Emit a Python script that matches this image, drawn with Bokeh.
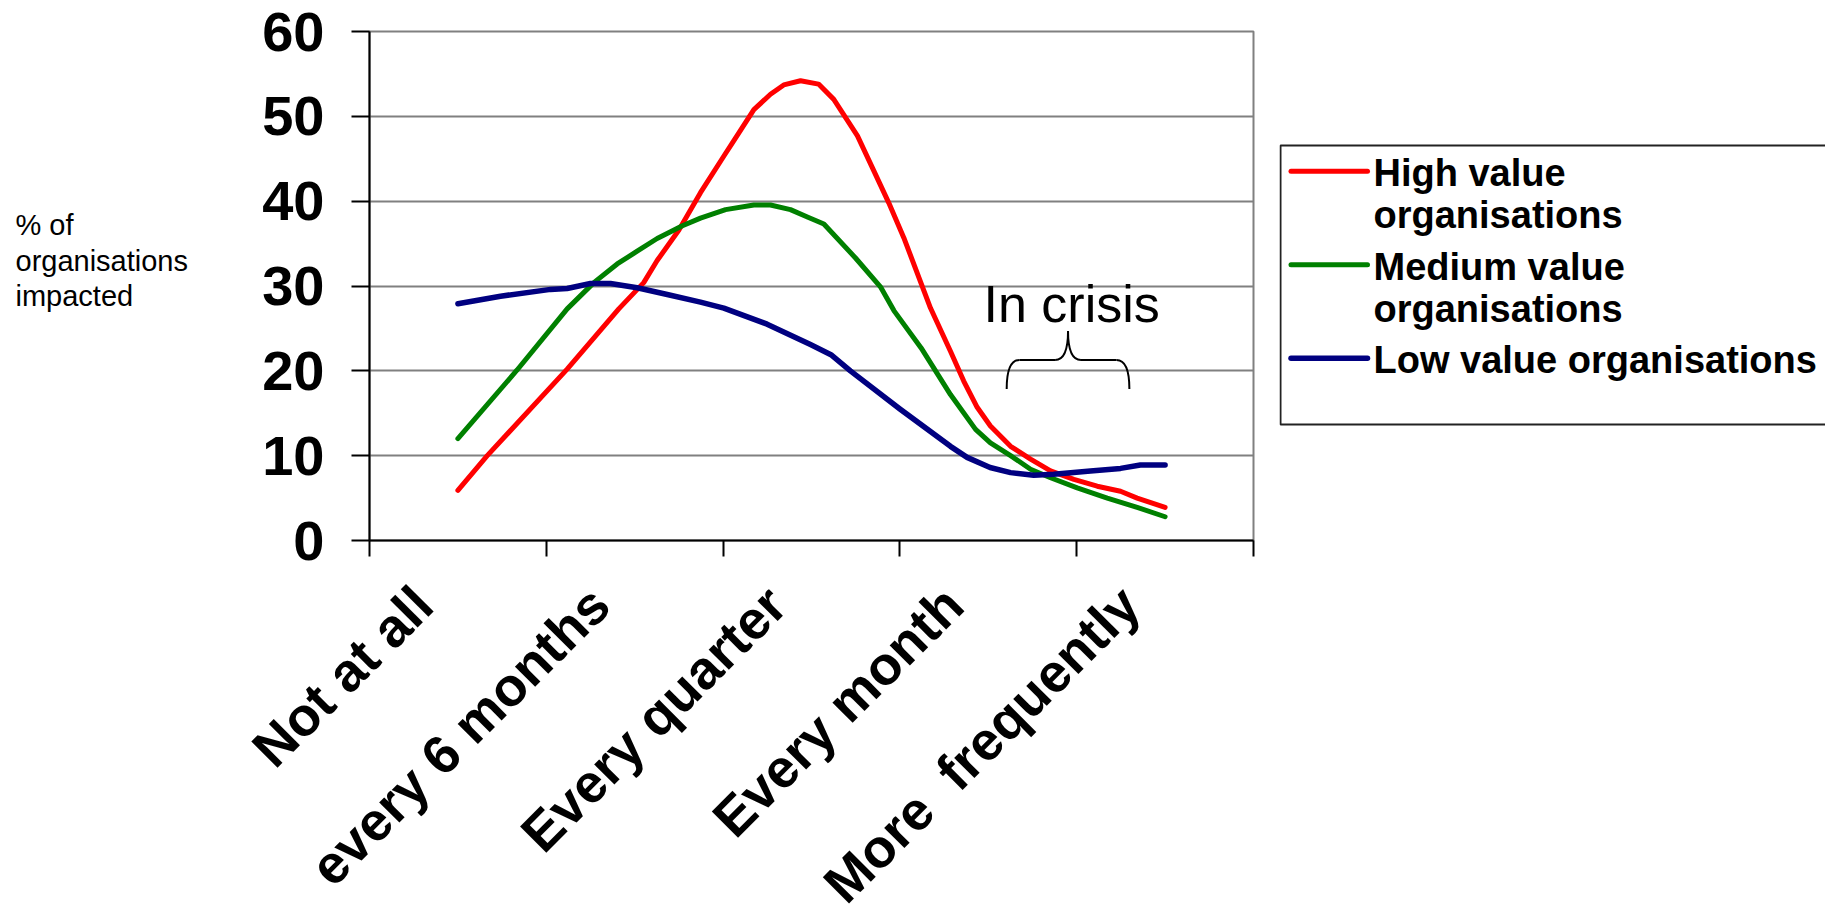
from bokeh.plotting import figure
from bokeh.layouts import row, column
from bokeh.models import FixedTicker, Range1d, Label
from bokeh.embed import file_html
from bokeh.resources import INLINE

# ---------------- data ----------------
categories = ["Not at all", "every 6 months", "Every quarter", "Every month",
              "More\u00a0\u00a0frequently"]
category_pos = [1, 2, 3, 4, 5]
y_ticks = [0, 10, 20, 30, 40, 50, 60]

high_x = [1.0, 1.166, 1.618, 1.91, 2.051, 2.127, 2.25, 2.372, 2.51, 2.56,
          2.674, 2.768, 2.843, 2.938, 3.04, 3.126, 3.26, 3.352, 3.437, 3.522,
          3.673, 3.786, 3.861, 3.937, 4.012, 4.126, 4.239, 4.352, 4.484, 4.616,
          4.748, 4.842, 5.0]
high_y = [5.9, 10.0, 20.2, 27.3, 30.4, 33.0, 36.6, 41.0, 45.5, 47.1,
          50.8, 52.6, 53.7, 54.2, 53.8, 52.0, 47.7, 43.6, 39.8, 35.7,
          27.4, 22.3, 18.8, 15.7, 13.5, 11.1, 9.6, 8.2, 7.2, 6.4,
          5.8, 5.0, 3.9]

medium_x = [1.0, 1.335, 1.618, 1.769, 1.901, 2.014, 2.127, 2.27, 2.372, 2.514,
            2.674, 2.768, 2.881, 2.98, 3.07, 3.249, 3.39, 3.466, 3.62, 3.786,
            3.928, 4.012, 4.126, 4.239, 4.352, 4.503, 4.673, 4.842, 5.0]
medium_y = [12.0, 20.1, 27.3, 30.4, 32.6, 34.1, 35.6, 37.1, 38.0, 39.0,
            39.55, 39.55, 39.0, 38.1, 37.3, 33.3, 29.9, 27.1, 22.7, 17.2,
            13.1, 11.5, 10.0, 8.4, 7.4, 6.2, 5.0, 3.9, 2.8]

low_x = [1.0, 1.241, 1.524, 1.618, 1.75, 1.863, 2.014, 2.184, 2.372, 2.504,
         2.749, 2.994, 3.11, 3.22, 3.5, 3.786, 3.88, 4.01, 4.126, 4.257,
         4.37, 4.578, 4.748, 4.86, 5.0]
low_y = [27.9, 28.8, 29.6, 29.7, 30.3, 30.3, 29.8, 29.0, 28.1, 27.4,
         25.5, 23.1, 21.9, 20.0, 15.5, 11.1, 9.8, 8.6, 8.0, 7.7,
         7.8, 8.2, 8.5, 8.9, 8.9]

series_labels = ["High value\norganisations", "Medium value\norganisations", "Low value organisations"]
series_colors = ["#FF0000", "#008000", "#000080"]
series_widths = [5, 5, 5.5]
y_title_lines = ["% of", "organisations", "impacted"]
annotation_text = "In crisis"

FONT = "Liberation Sans"

# ---------------- page geometry (pixels) ----------------
PAGE_W = 1825
TITLE_W = 200           # left strip with the y title
LEGEND_X = 1279         # left edge of the legend strip
TOP_H = 571             # row holding the chart
LABELS_H = 349          # strip below with the rotated category labels
FRAME_LEFT, FRAME_RIGHT = 369, 1253
FRAME_TOP, FRAME_H = 31, 509
FRAME_BOTTOM = FRAME_TOP + FRAME_H
PX_PER_CAT = (FRAME_RIGHT - FRAME_LEFT) / len(categories)
X_START, X_END = 0.5, len(categories) + 0.5


def blank_fig(w, h, xr, yr, top=0, bottom=0):
    f = figure(width=w, height=h, output_backend="svg", toolbar_location=None,
               x_range=xr, y_range=yr, min_border_left=0, min_border_right=0,
               min_border_top=top, min_border_bottom=bottom,
               x_axis_location=None, y_axis_location=None)
    f.outline_line_color = None
    for g in f.grid:
        g.visible = False
    f.background_fill_color = "white"
    f.border_fill_color = "white"
    return f


# ---------------- main chart ----------------
main_w = LEGEND_X - TITLE_W
p = figure(width=main_w, height=TOP_H, output_backend="svg", toolbar_location=None,
           x_range=Range1d(X_START, X_END), y_range=Range1d(0, 60),
           min_border_left=FRAME_LEFT - TITLE_W,
           min_border_right=LEGEND_X - FRAME_RIGHT,
           min_border_top=FRAME_TOP,
           min_border_bottom=TOP_H - FRAME_BOTTOM)
p.background_fill_color = "white"
p.border_fill_color = "white"
p.outline_line_color = "#808080"
p.outline_line_width = 2

# y axis
p.yaxis.ticker = FixedTicker(ticks=y_ticks, minor_ticks=[])
p.yaxis.major_label_text_font = FONT
p.yaxis.major_label_text_font_style = "bold"
p.yaxis.major_label_text_font_size = "56px"
p.yaxis.major_label_text_color = "black"
p.yaxis.major_label_standoff = 27
p.yaxis.major_tick_out = 18
p.yaxis.major_tick_in = 0
p.yaxis.major_tick_line_width = 2
p.yaxis.major_tick_line_color = "black"
p.yaxis.minor_tick_line_color = None
p.yaxis.axis_line_width = 2
p.yaxis.axis_line_color = "black"

# x axis: tick marks on the category boundaries
boundaries = [c - 0.5 for c in category_pos] + [category_pos[-1] + 0.5]
p.xaxis.ticker = FixedTicker(ticks=[], minor_ticks=boundaries)
p.xaxis.major_tick_line_color = None
p.xaxis.minor_tick_out = 16
p.xaxis.minor_tick_in = 0
p.xaxis.minor_tick_line_width = 2
p.xaxis.minor_tick_line_color = "black"
p.xaxis.axis_line_width = 2
p.xaxis.axis_line_color = "black"

# grid
p.ygrid.ticker = FixedTicker(ticks=y_ticks)
p.ygrid.grid_line_color = "#808080"
p.ygrid.grid_line_width = 2
p.xgrid.grid_line_color = None

# series
for xs, ys, col, lw in zip([high_x, medium_x, low_x], [high_y, medium_y, low_y],
                           series_colors, series_widths):
    p.line(xs, ys, line_color=col, line_width=lw, line_join="round", line_cap="round")

# "In crisis" annotation with a brace
p.add_layout(Label(x=3.973, y=27.83, text=annotation_text, text_align="left",
                   text_baseline="middle", text_font=FONT,
                   text_font_size="52px", text_color="black"))
uc, hw, rr = 4.451, 0.347, 0.073
v_end, v_mid, v_tip = 17.87, 21.29, 24.71
p.quadratic(x0=[uc - hw, uc - rr, uc, uc + hw - rr],
            y0=[v_end, v_mid, v_tip, v_mid],
            x1=[uc - hw + rr, uc, uc + rr, uc + hw],
            y1=[v_mid, v_tip, v_mid, v_end],
            cx=[uc - hw, uc, uc, uc + hw],
            cy=[v_mid, v_mid, v_mid, v_mid],
            line_color="black", line_width=2)
p.segment(x0=[uc - hw + rr, uc + rr], y0=[v_mid, v_mid],
          x1=[uc - rr, uc + hw - rr], y1=[v_mid, v_mid],
          line_color="black", line_width=2)

# ---------------- legend strip (page pixel coordinates, y downwards) ----------------
leg_w = PAGE_W - LEGEND_X
lg = blank_fig(leg_w, TOP_H, Range1d(0, leg_w), Range1d(FRAME_BOTTOM, FRAME_TOP),
               top=FRAME_TOP, bottom=TOP_H - FRAME_BOTTOM)
lg.quad(left=[1], right=[leg_w + 10], top=[145], bottom=[424],
        fill_color="white", line_color="#222222", line_width=2)
entry_top, entry_step, line_step = 170.7, 93.5, 42
for i, (lab_text, col, lw) in enumerate(zip(series_labels, series_colors, series_widths)):
    yy = entry_top + i * entry_step
    lg.segment(x0=[11.5], y0=[yy], x1=[88], y1=[yy], line_color=col,
               line_width=lw, line_cap="round")
    for j, part in enumerate(lab_text.split("\n")):
        lg.add_layout(Label(x=94, y=yy + 2 + j * line_step, text=part, text_align="left",
                            text_baseline="middle", text_font=FONT,
                            text_font_style="bold", text_font_size="38px",
                            text_color="black"))

# ---------------- y title strip ----------------
t = blank_fig(TITLE_W, TOP_H, Range1d(0, TITLE_W), Range1d(FRAME_BOTTOM, FRAME_TOP),
              top=FRAME_TOP, bottom=TOP_H - FRAME_BOTTOM)
for txt, yy in zip(y_title_lines, [224.6, 260.7, 295.6]):
    t.add_layout(Label(x=15, y=yy, text=txt, text_align="left",
                       text_baseline="middle", text_font=FONT,
                       text_font_size="29px", text_color="black"))

# ---------------- category label strip (same x scale as the chart) ----------------
lab_xr = Range1d(X_START - FRAME_LEFT / PX_PER_CAT,
                 X_START + (PAGE_W - FRAME_LEFT) / PX_PER_CAT)
lab = blank_fig(PAGE_W, LABELS_H, lab_xr, Range1d(TOP_H + LABELS_H, TOP_H))
for pos, name in zip(category_pos, categories):
    lab.add_layout(Label(x=pos, y=595, x_offset=-35, text=name, angle=45, angle_units="deg",
                         text_align="right", text_baseline="middle",
                         text_font=FONT, text_font_style="bold",
                         text_font_size="54px", text_color="black"))

layout = column(row(t, p, lg, spacing=0), lab, spacing=0)
open("out.html", "w").write(file_html(layout, INLINE))
